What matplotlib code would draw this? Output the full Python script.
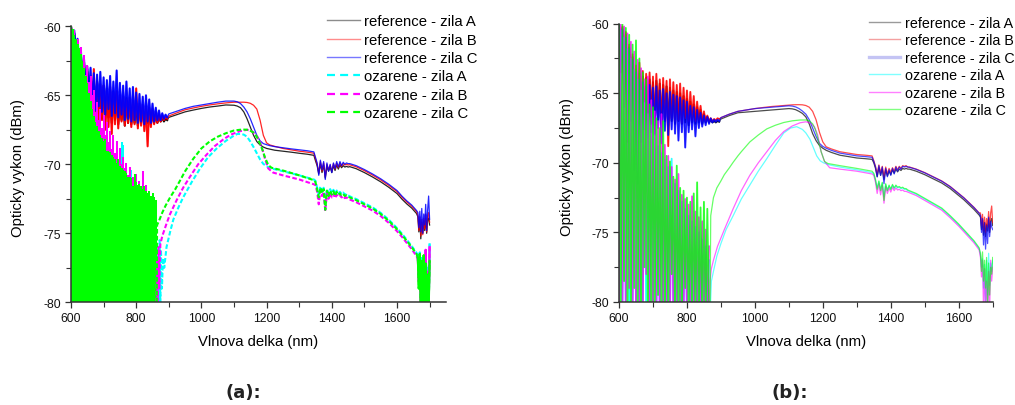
import numpy as np
import matplotlib
matplotlib.use("Agg")
import matplotlib.pyplot as plt
from matplotlib.lines import Line2D
from matplotlib.ticker import MultipleLocator

plt.rcParams['font.family'] = ['Liberation Sans', 'DejaVu Sans']
plt.rcParams['axes.unicode_minus'] = False

# ---------------------------------------------------------------- wavelength grids (nm)
NOISE_NM = np.arange(600, 900, 5)          # noisy short-wavelength band
OH_NM = np.arange(1350, 1455, 5)           # water-peak band
END_NM = np.arange(1664, 1701, 3)          # detector edge
MID_NM = [900, 925, 950, 975, 1000, 1025, 1050, 1075, 1100, 1110, 1120, 1130, 1140,
          1150, 1160, 1170, 1180, 1190, 1200, 1210, 1225, 1250, 1275, 1300, 1325, 1345]
TAIL_NM = [1455, 1475, 1500, 1525, 1550, 1575, 1600, 1615, 1630, 1645, 1660]
OZ_NOISE_NM_A = np.arange(600, 865, 5)
OZ_NOISE_NM_B = np.arange(600, 870, 5)

LABELS = ['reference - zila A', 'reference - zila B', 'reference - zila C',
          'ozarene - zila A', 'ozarene - zila B', 'ozarene - zila C']

# ================================================================ panel (a)
A_REF_A_NOISE = [-60.0, -61.0, -60.5, -62.0, -61.3, -62.9, -62.0, -63.9, -62.6, -64.8,
                 -63.3, -65.4, -63.8, -66.0, -64.0, -66.5, -64.1, -66.3, -64.4, -66.7,
                 -64.3, -66.9, -64.5, -66.6, -64.6, -67.0, -64.7, -66.8, -64.9, -67.1,
                 -65.0, -66.8, -65.1, -67.2, -65.2, -67.0, -65.4, -67.1, -65.5, -67.0,
                 -65.6, -67.2, -65.8, -67.0, -65.9, -67.1, -66.0, -67.0, -66.1, -67.1,
                 -66.3, -67.0, -66.4, -67.0, -66.5, -66.9, -66.6, -66.9, -66.7, -66.8]
A_REF_B_NOISE = [-60.0, -61.5, -60.6, -62.3, -61.2, -63.2, -61.9, -64.1, -62.8, -65.0,
                 -63.1, -65.6, -63.6, -66.4, -63.1, -66.9, -64.0, -67.2, -64.2, -66.8,
                 -64.3, -67.5, -64.6, -67.3, -64.4, -67.8, -64.8, -67.1, -64.7, -67.4,
                 -65.0, -66.9, -65.1, -67.2, -65.3, -67.0, -65.2, -67.3, -65.4, -67.1,
                 -64.5, -67.4, -65.6, -67.2, -65.7, -67.6, -65.8, -68.7, -65.9, -67.3,
                 -66.0, -67.1, -66.2, -67.0, -66.4, -66.9, -66.5, -66.8, -66.6, -66.7]
A_REF_C_NOISE = [-60.0, -61.2, -60.3, -61.8, -60.9, -62.6, -61.6, -63.8, -62.4, -64.6,
                 -62.9, -65.3, -63.0, -65.9, -63.4, -66.1, -63.5, -65.8, -63.3, -66.2,
                 -63.7, -66.4, -63.9, -66.0, -63.6, -66.5, -64.0, -66.3, -63.2, -66.6,
                 -64.1, -66.4, -64.3, -66.8, -64.0, -66.7, -64.5, -66.9, -64.4, -66.8,
                 -64.8, -67.0, -64.9, -66.9, -65.1, -67.1, -65.0, -66.9, -65.3, -67.0,
                 -65.6, -66.9, -65.9, -66.8, -66.1, -66.8, -66.3, -66.7, -66.4, -66.6]

A_REF_A_MID = [-66.6, -66.4, -66.2, -66.07, -65.95, -65.85, -65.78, -65.7, -65.72, -65.78,
               -65.9, -66.2, -66.7, -67.3, -67.9, -68.35, -68.6, -68.75, -68.85, -68.9,
               -68.98, -69.05, -69.12, -69.2, -69.27, -69.35]
A_REF_B_MID = [-66.5, -66.27, -66.05, -65.92, -65.8, -65.7, -65.62, -65.55, -65.5, -65.5,
               -65.5, -65.5, -65.52, -65.58, -65.72, -66.0, -66.8, -67.9, -68.45, -68.6,
               -68.7, -68.85, -68.95, -69.05, -69.12, -69.2]
A_REF_C_MID = [-66.35, -66.15, -65.95, -65.8, -65.7, -65.6, -65.5, -65.42, -65.42, -65.47,
               -65.6, -65.85, -66.2, -66.7, -67.3, -67.9, -68.3, -68.5, -68.58, -68.65,
               -68.72, -68.8, -68.88, -68.95, -69.02, -69.1]

A_REF_A_OH = [-69.75, -70.1, -70.7, -69.95, -70.6, -70.05, -71.0, -70.15, -70.5, -70.2, -70.6,
              -70.1, -70.45, -70.05, -70.35, -70.05, -70.25, -70.1, -70.2, -70.15, -70.2]
A_REF_B_OH = [-69.6, -70.0, -70.6, -69.8, -70.5, -69.9, -70.9, -70.0, -70.4, -70.05, -70.5,
              -69.95, -70.35, -69.9, -70.25, -69.9, -70.15, -69.95, -70.05, -70.0, -70.05]
A_REF_C_OH = [-69.5, -69.9, -70.8, -69.7, -70.4, -69.8, -71.1, -69.9, -70.5, -70.0, -70.6,
              -69.9, -70.3, -69.8, -70.2, -69.8, -70.1, -69.85, -70.0, -69.9, -69.95]

A_REF_A_TAIL = [-70.17, -70.32, -70.6, -70.92, -71.27, -71.67, -72.12, -72.52, -72.87, -73.17, -73.57]
A_REF_B_TAIL = [-70.03, -70.18, -70.46, -70.78, -71.13, -71.53, -71.98, -72.38, -72.73, -73.03, -73.43]
A_REF_C_TAIL = [-69.95, -70.1, -70.38, -70.7, -71.05, -71.45, -71.9, -72.3, -72.65, -72.95, -73.35]

A_REF_A_END = [-73.8, -74.9, -74.0, -75.4, -74.2, -75.0, -74.1, -74.8, -73.9, -75.0, -74.0, -73.9, -74.4]
A_REF_B_END = [-73.7, -74.8, -73.8, -75.2, -74.0, -75.1, -73.9, -74.7, -73.6, -74.9, -73.8, -73.5, -74.2]
A_REF_C_END = [-73.5, -74.6, -73.4, -74.9, -73.2, -75.0, -73.6, -74.4, -72.9, -74.8, -73.3, -72.3, -74.0]

# irradiated fibres, panel (a): tops of the noisy band
A_OZ_A_NOISE = [-60.0, -60.4, -60.8, -61.1, -61.5, -61.9, -62.3, -62.8, -63.3, -63.9,
                -64.4, -65.1, -65.7, -66.3, -66.8, -67.2, -67.5, -67.9, -68.2, -68.4,
                -68.6, -68.8, -69.2, -69.3, -69.4, -69.6, -69.8, -69.9, -70.1, -70.2,
                -70.3, -68.4, -68.6, -70.7, -70.8, -71.0, -71.1, -70.4, -71.3, -71.4,
                -71.5, -71.7, -71.6, -71.8, -72.0, -71.8, -72.1, -72.3, -72.1, -72.5,
                -72.3, -72.6, -72.8]
A_OZ_B_NOISE = [-60.0, -60.5, -60.3, -61.2, -60.9, -62.0, -61.5, -62.8, -62.1, -63.5,
                -62.8, -64.0, -63.6, -65.0, -64.6, -66.2, -65.5, -66.8, -66.0, -67.4,
                -66.4, -67.9, -66.9, -68.4, -67.6, -68.9, -67.9, -69.2, -68.3, -69.7,
                -68.8, -70.0, -69.5, -70.3, -69.9, -70.8, -70.2, -71.0, -70.9, -71.3,
                -70.7, -71.6, -71.2, -71.8, -70.5, -72.0, -71.5, -72.2, -72.0, -72.5,
                -72.4, -72.8, -73.0]
A_OZ_C_NOISE = [-60.0, -60.2, -60.6, -60.9, -61.3, -61.6, -62.0, -62.5, -63.0, -63.6,
                -64.1, -64.8, -65.4, -66.0, -66.5, -66.9, -67.2, -67.6, -67.9, -68.1,
                -68.3, -68.2, -69.0, -69.0, -69.1, -69.3, -69.5, -69.6, -69.9, -69.6,
                -70.1, -70.3, -70.4, -70.5, -70.6, -70.9, -70.9, -71.0, -71.6, -70.7,
                -71.3, -71.5, -71.4, -71.6, -71.8, -71.6, -71.9, -72.1, -71.9, -72.3,
                -72.1, -72.4, -72.6]

A_OZ_A_MID_NM = [866, 868, 870, 872, 874, 876, 879, 882, 886, 893, 904, 914, 930, 944, 970, 996,
                 1020, 1047, 1075, 1098, 1110, 1120, 1130, 1140, 1150, 1160, 1170, 1180, 1190,
                 1200, 1215, 1250, 1300, 1345]
A_OZ_A_MID = [-80.5, -76.0, -80.5, -75.5, -80.5, -76.2, -79.0, -76.8, -77.5, -76.0, -74.9, -74.0,
              -73.1, -72.4, -71.3, -70.3, -69.5, -68.85, -68.3, -67.95, -67.8, -67.8, -67.85,
              -68.0, -68.35, -68.75, -69.2, -69.65, -69.97, -70.15, -70.3, -70.5, -70.8, -71.1]
A_OZ_B_MID_NM = [862, 864, 866, 868, 871, 874, 880, 893, 904, 924, 944, 965, 990, 1016, 1040,
                 1067, 1090, 1118, 1140, 1155, 1170, 1180, 1188, 1195, 1205, 1220, 1250, 1300, 1345]
A_OZ_B_MID = [-80.5, -77.0, -80.5, -76.0, -79.0, -75.8, -75.2, -74.3, -73.6, -72.6, -71.7, -70.9,
              -70.0, -69.3, -68.7, -68.2, -67.85, -67.6, -67.5, -67.6, -67.95, -68.4, -69.0,
              -69.6, -70.3, -70.6, -70.8, -71.1, -71.45]
A_OZ_C_MID_NM = [863, 864, 870, 880, 890, 904, 920, 934, 950, 975, 1000, 1025, 1050, 1075, 1100,
                 1125, 1145, 1160, 1170, 1180, 1188, 1195, 1205, 1215, 1250, 1300, 1345]
A_OZ_C_MID = [-80.5, -74.4, -74.1, -73.5, -73.0, -72.4, -71.8, -71.2, -70.5, -69.6, -68.85, -68.35,
              -68.0, -67.75, -67.55, -67.48, -67.5, -67.7, -68.0, -68.5, -69.0, -69.5, -70.05,
              -70.25, -70.45, -70.8, -71.15]

A_OZ_A_OH = [-71.2, -71.7, -72.2, -71.6, -72.0, -71.7, -72.9, -71.8, -72.1, -71.8, -72.1,
             -71.85, -72.15, -71.9, -72.1, -72.0, -72.15, -72.05, -72.2, -72.15, -72.25]
A_OZ_B_OH = [-71.5, -72.0, -72.9, -71.9, -72.3, -72.0, -73.4, -72.1, -72.5, -72.1, -72.4,
             -72.15, -72.45, -72.2, -72.35, -72.25, -72.4, -72.3, -72.45, -72.4, -72.5]
A_OZ_C_OH = [-71.3, -71.8, -72.4, -71.7, -72.1, -71.8, -73.3, -71.9, -72.3, -71.9, -72.2,
             -71.95, -72.3, -72.0, -72.2, -72.1, -72.25, -72.15, -72.3, -72.25, -72.35]

A_OZ_A_TAIL = [-72.32, -72.52, -72.82, -73.12, -73.52, -74.02, -74.62, -75.02, -75.47, -75.92, -76.42]
A_OZ_B_TAIL = [-72.55, -72.75, -73.05, -73.35, -73.75, -74.25, -74.85, -75.25, -75.7, -76.15, -76.65]
A_OZ_C_TAIL = [-72.4, -72.6, -72.9, -73.2, -73.6, -74.1, -74.7, -75.1, -75.55, -76.0, -76.5]

A_OZ_A_END = [-76.6, -78.0, -76.4, -79.5, -76.8, -80.5, -77.0, -80.5, -76.5, -79.0, -77.5, -80.5, -75.8]
A_OZ_B_END = [-76.9, -78.5, -76.7, -80.5, -77.4, -80.5, -77.0, -80.5, -76.2, -79.5, -77.8, -80.5, -76.0]
A_OZ_C_END = [-76.8, -79.0, -76.5, -80.5, -77.0, -80.5, -76.6, -80.5, -77.2, -80.5, -78.0, -80.5, -77.0]

# ================================================================ panel (b)
B_REF_A_NOISE = [-60.0, -63.5, -60.3, -66.0, -60.8, -68.5, -61.7, -64.8, -62.4, -66.5,
                 -63.3, -66.2, -63.6, -67.0, -63.8, -66.6, -63.9, -67.2, -64.0, -66.7,
                 -64.2, -67.3, -64.1, -66.9, -64.3, -67.2, -64.4, -67.0, -64.5, -67.3,
                 -64.6, -67.0, -64.8, -67.2, -64.9, -67.0, -65.0, -67.2, -65.2, -67.1,
                 -65.4, -67.3, -65.6, -67.1, -65.8, -67.2, -66.0, -67.1, -66.2, -67.2,
                 -66.5, -67.1, -66.7, -67.1, -66.9, -67.1, -67.0, -67.1, -67.0, -67.05]
B_REF_B_NOISE = [-60.0, -61.8, -60.2, -63.0, -60.6, -64.2, -61.5, -65.5, -62.2, -66.0,
                 -63.0, -66.4, -62.8, -66.7, -63.4, -66.5, -63.6, -67.0, -63.5, -66.6,
                 -63.8, -67.1, -63.6, -66.8, -64.0, -67.2, -63.9, -66.9, -64.1, -68.8,
                 -64.0, -66.8, -64.2, -67.0, -64.4, -66.9, -64.3, -67.1, -64.6, -66.8,
                 -64.8, -67.0, -64.9, -66.9, -65.2, -67.0, -65.6, -66.9, -65.9, -67.0,
                 -66.3, -67.0, -66.6, -67.0, -66.8, -67.0, -66.85, -66.95, -66.8, -66.85]
B_REF_C_NOISE = [-60.0, -62.5, -60.4, -64.0, -61.0, -65.5, -61.8, -67.0, -62.6, -70.5,
                 -63.5, -71.5, -64.0, -68.5, -64.2, -67.6, -64.5, -68.2, -64.4, -67.8,
                 -64.6, -68.0, -64.5, -67.5, -64.8, -68.6, -64.7, -67.7, -65.0, -68.0,
                 -64.9, -67.6, -65.1, -67.9, -65.2, -68.4, -65.3, -67.8, -65.5, -68.9,
                 -65.6, -67.8, -65.9, -67.6, -66.0, -68.1, -66.2, -67.5, -66.4, -67.4,
                 -66.6, -67.3, -66.7, -67.2, -66.8, -67.1, -66.9, -67.05, -66.9, -67.0]

B_REF_A_MID = [-66.85, -66.6, -66.4, -66.35, -66.3, -66.25, -66.2, -66.15, -66.1, -66.12,
               -66.18, -66.3, -66.45, -66.7, -67.2, -67.9, -68.4, -68.75, -68.95, -69.1,
               -69.25, -69.45, -69.55, -69.65, -69.7, -69.75]
B_REF_B_MID = [-66.75, -66.5, -66.3, -66.2, -66.1, -66.02, -65.95, -65.9, -65.85, -65.83,
               -65.82, -65.82, -65.83, -65.88, -66.0, -66.3, -66.9, -67.8, -68.5, -68.85,
               -69.0, -69.2, -69.3, -69.4, -69.45, -69.5]
B_REF_C_MID = [-66.75, -66.5, -66.3, -66.2, -66.1, -66.05, -66.0, -65.95, -65.9, -65.92,
               -65.98, -66.1, -66.28, -66.5, -66.9, -67.5, -68.1, -68.6, -68.82, -68.95,
               -69.1, -69.3, -69.4, -69.5, -69.55, -69.6]

B_REF_A_OH = [-70.0, -70.4, -71.0, -70.35, -70.9, -70.45, -71.2, -70.5, -70.95, -70.6, -70.85,
              -70.5, -70.75, -70.45, -70.65, -70.45, -70.55, -70.4, -70.45, -70.4, -70.45]
B_REF_B_OH = [-69.85, -70.25, -70.8, -70.15, -70.7, -70.25, -71.0, -70.3, -70.8, -70.4, -70.7,
              -70.35, -70.6, -70.25, -70.5, -70.25, -70.4, -70.2, -70.25, -70.2, -70.3]
B_REF_C_OH = [-69.9, -70.3, -71.0, -70.2, -70.9, -70.3, -71.5, -70.4, -71.0, -70.5, -70.9,
              -70.4, -70.8, -70.3, -70.6, -70.3, -70.45, -70.25, -70.3, -70.25, -70.3]

B_REF_A_TAIL = [-70.45, -70.6, -70.85, -71.15, -71.45, -71.85, -72.35, -72.65, -73.0, -73.35, -73.75]
B_REF_B_TAIL = [-70.3, -70.45, -70.7, -71.0, -71.3, -71.7, -72.2, -72.5, -72.85, -73.2, -73.6]
B_REF_C_TAIL = [-70.32, -70.47, -70.72, -71.02, -71.32, -71.72, -72.22, -72.52, -72.87, -73.22, -73.62]

B_REF_A_END = [-73.9, -74.8, -74.1, -75.2, -74.3, -75.3, -74.4, -74.9, -74.0, -75.0, -74.2, -74.0, -74.5]
B_REF_B_END = [-73.6, -74.5, -73.7, -74.9, -73.9, -75.0, -74.0, -74.6, -73.5, -74.8, -73.6, -73.1, -74.3]
B_REF_C_END = [-73.8, -75.0, -74.0, -75.9, -74.3, -76.2, -74.5, -75.8, -73.9, -75.3, -74.2, -74.6, -74.8]

B_OZ_A_NOISE = [-81.0, -60.5, -81.0, -61.0, -81.0, -61.8, -81.0, -62.5, -81.0, -63.3,
                -81.0, -64.0, -81.0, -64.8, -81.0, -65.7, -81.0, -66.5, -81.0, -67.3,
                -81.0, -68.0, -81.0, -68.8, -81.0, -69.3, -81.0, -69.8, -81.0, -70.3,
                -81.0, -69.7, -81.0, -71.5, -81.0, -72.0, -81.0, -72.8, -81.0, -73.3,
                -81.0, -73.8, -81.0, -74.2, -81.0, -74.6, -81.0, -75.0, -81.0, -75.5,
                -81.0, -76.0, -81.0, -77.0]
B_OZ_B_NOISE = [-81.0, -60.0, -81.0, -60.2, -81.0, -60.7, -79.0, -61.3, -81.0, -62.0,
                -81.0, -62.6, -81.0, -63.2, -81.0, -64.0, -78.0, -63.8, -81.0, -65.5,
                -81.0, -66.3, -81.0, -67.0, -81.0, -66.5, -81.0, -68.7, -81.0, -69.5,
                -81.0, -70.3, -81.0, -71.2, -81.0, -70.8, -81.0, -72.3, -81.0, -72.6,
                -81.0, -73.0, -81.0, -72.4, -81.0, -73.5, -81.0, -73.9, -81.0, -74.2,
                -81.0, -74.8, -81.0, -76.0]
B_OZ_C_NOISE = [-60.0, -81.0, -60.0, -78.5, -60.3, -81.0, -60.8, -81.0, -61.5, -79.0,
                -61.2, -81.0, -62.5, -81.0, -63.5, -77.5, -64.0, -81.0, -65.8, -81.0,
                -66.0, -81.0, -66.8, -79.5, -67.5, -81.0, -67.0, -81.0, -69.5, -81.0,
                -69.9, -78.0, -71.0, -81.0, -70.2, -81.0, -71.8, -81.0, -72.0, -79.0,
                -72.5, -81.0, -72.8, -81.0, -72.2, -81.0, -71.4, -81.0, -73.2, -81.0,
                -72.8, -81.0, -73.3, -81.0]

B_OZ_A_MID_NM = [868, 872, 878, 888, 900, 915, 936, 960, 985, 1010, 1035, 1060, 1085, 1105,
                 1123, 1140, 1150, 1162, 1172, 1182, 1192, 1202, 1220, 1250, 1300, 1345]
B_OZ_A_MID = [-81.0, -78.5, -77.8, -76.7, -75.8, -74.8, -73.8, -72.6, -71.6, -70.6, -69.7,
              -68.75, -67.85, -67.5, -67.4, -67.6, -67.85, -68.3, -68.9, -69.5, -69.85, -70.0,
              -70.15, -70.3, -70.5, -70.7]
B_OZ_B_MID_NM = [865, 868, 872, 878, 890, 910, 936, 960, 985, 1010, 1035, 1060, 1085, 1110,
                 1133, 1150, 1165, 1175, 1185, 1195, 1205, 1220, 1250, 1300, 1345]
B_OZ_B_MID = [-81.0, -78.5, -77.6, -77.0, -76.0, -74.8, -73.3, -72.0, -70.9, -70.0, -69.2,
              -68.4, -67.75, -67.35, -67.12, -67.05, -67.15, -67.4, -68.0, -69.2, -69.9,
              -70.35, -70.45, -70.6, -70.8]
B_OZ_C_MID_NM = [868, 870, 878, 888, 900, 910, 925, 936, 950, 960, 985, 1010, 1035, 1060, 1085,
                 1110, 1133, 1150, 1160, 1170, 1178, 1185, 1195, 1205, 1215, 1250, 1300, 1345]
B_OZ_C_MID = [-81.0, -73.8, -72.5, -71.8, -71.3, -70.85, -70.35, -69.96, -69.5, -69.2, -68.5,
              -68.0, -67.56, -67.3, -67.1, -66.98, -66.92, -66.92, -66.97, -67.2, -67.6, -68.2,
              -69.2, -69.9, -70.05, -70.2, -70.4, -70.6]

B_OZ_A_OH = [-70.8, -71.25, -71.8, -71.35, -71.9, -71.45, -72.4, -71.55, -71.95, -71.65, -71.9,
             -71.6, -71.85, -71.65, -71.8, -71.75, -71.85, -71.8, -71.9, -71.9, -72.0]
B_OZ_B_OH = [-70.9, -71.4, -72.2, -71.5, -72.3, -71.6, -72.9, -71.7, -72.2, -71.8, -72.1,
             -71.75, -72.0, -71.8, -71.95, -71.9, -72.0, -71.95, -72.05, -72.05, -72.1]
B_OZ_C_OH = [-70.75, -71.2, -71.9, -71.3, -72.0, -71.4, -72.7, -71.5, -72.0, -71.6, -71.9,
             -71.55, -71.8, -71.6, -71.75, -71.7, -71.8, -71.75, -71.85, -71.85, -71.95]

B_OZ_A_TAIL = [-72.05, -72.25, -72.6, -72.95, -73.3, -73.85, -74.45, -74.85, -75.25, -75.65, -76.15]
B_OZ_B_TAIL = [-72.15, -72.35, -72.7, -73.05, -73.4, -73.95, -74.55, -74.95, -75.35, -75.75, -76.25]
B_OZ_C_TAIL = [-72.0, -72.2, -72.55, -72.9, -73.25, -73.8, -74.4, -74.8, -75.2, -75.6, -76.1]

B_OZ_A_END = [-76.6, -77.5, -76.9, -79.0, -77.3, -80.5, -77.0, -79.5, -76.5, -78.8, -77.2, -77.8, -77.0]
B_OZ_B_END = [-76.8, -78.2, -77.0, -80.5, -77.6, -80.5, -78.5, -80.5, -77.8, -80.5, -77.0, -78.5, -77.5]
B_OZ_C_END = [-76.5, -77.8, -76.4, -78.5, -77.0, -79.0, -76.8, -80.5, -77.2, -79.5, -77.5, -78.0, -76.8]

REF_COLORS = ['#000000', '#ff0000', '#0000ff']
OZ_COLORS = ['#00ffff', '#ff00ff', '#00ff00']


def join(parts_nm, parts_db):
    return np.concatenate([np.asarray(p, float) for p in parts_nm]), \
           np.concatenate([np.asarray(p, float) for p in parts_db])


def ref_series(noise, mid, oh, tail, end):
    return join([NOISE_NM, MID_NM, OH_NM, TAIL_NM, END_NM], [noise, mid, oh, tail, end])


def oz_series(mid_nm, mid, oh, tail, end):
    return join([mid_nm, OH_NM, TAIL_NM, END_NM], [mid, oh, tail, end])


def style_axes(ax, xmax):
    ax.set_xlim(600, xmax)
    ax.set_ylim(-80, -60)
    ax.set_xticks(np.arange(600, 1701, 200))
    ax.xaxis.set_minor_locator(MultipleLocator(100))
    ax.set_yticks([-80, -75, -70, -65, -60])
    ax.yaxis.set_minor_locator(MultipleLocator(2.5))
    for s in ('top', 'right'):
        ax.spines[s].set_visible(False)
    for s in ('left', 'bottom'):
        ax.spines[s].set_color('#333333')
        ax.spines[s].set_linewidth(1.1)
    ax.tick_params(which='major', direction='out', length=4.5, width=0.9,
                   color='#333333', labelsize=8.8, pad=2.5, labelcolor='#111111')
    ax.tick_params(which='minor', direction='out', length=3.5, width=0.8, color='#333333')
    ax.set_xlabel('Vlnova delka (nm)', fontsize=10.7, va='center')
    ax.set_ylabel('Opticky vykon (dBm)', fontsize=10.7, va='center')


fig = plt.figure(figsize=(10.15, 4.06), dpi=100)
W, H = 1015.0, 406.0

# ------------------------------------------------------------------ panel (a)
axa = fig.add_axes([71 / W, (H - 303.3) / H, 374.9 / W, 276.0 / H])
ref_a_noise = [A_REF_A_NOISE, A_REF_B_NOISE, A_REF_C_NOISE]
ref_a = [ref_series(A_REF_A_NOISE, A_REF_A_MID, A_REF_A_OH, A_REF_A_TAIL, A_REF_A_END),
         ref_series(A_REF_B_NOISE, A_REF_B_MID, A_REF_B_OH, A_REF_B_TAIL, A_REF_B_END),
         ref_series(A_REF_C_NOISE, A_REF_C_MID, A_REF_C_OH, A_REF_C_TAIL, A_REF_C_END)]
for (x, y), noise, c in zip(ref_a, ref_a_noise, REF_COLORS):
    axa.plot(x, y, color=c, lw=0.9, alpha=0.85)
    axa.plot(NOISE_NM, noise, color=c, lw=1.5, alpha=0.85)   # dense noisy band

for tops, c in zip([A_OZ_A_NOISE, A_OZ_B_NOISE, A_OZ_C_NOISE], OZ_COLORS):
    axa.vlines(OZ_NOISE_NM_A, -85, tops, colors=c, lw=1.45)
oz_a_end = [A_OZ_A_END, A_OZ_B_END, A_OZ_C_END]
oz_a = [oz_series(A_OZ_A_MID_NM, A_OZ_A_MID, A_OZ_A_OH, A_OZ_A_TAIL, A_OZ_A_END),
        oz_series(A_OZ_B_MID_NM, A_OZ_B_MID, A_OZ_B_OH, A_OZ_B_TAIL, A_OZ_B_END),
        oz_series(A_OZ_C_MID_NM, A_OZ_C_MID, A_OZ_C_OH, A_OZ_C_TAIL, A_OZ_C_END)]
for (x, y), end, c in zip(oz_a, oz_a_end, OZ_COLORS):
    axa.plot(x, y, color=c, lw=1.5, dashes=(2.2, 1.1))
    axa.plot(END_NM, end, color=c, lw=1.6)

style_axes(axa, 1750)
axa.yaxis.set_label_coords(-0.1414, 0.49)
axa.xaxis.set_label_coords(0.50, -0.140)

handles_a = [Line2D([], [], color='#8c8c8c', lw=1.0),
             Line2D([], [], color='#ff8c8c', lw=1.0),
             Line2D([], [], color='#7878ff', lw=1.0),
             Line2D([], [], color='#00ffff', lw=1.6, dashes=(3.6, 2.3)),
             Line2D([], [], color='#ff00ff', lw=1.6, dashes=(3.6, 2.3)),
             Line2D([], [], color='#00ff00', lw=1.6, dashes=(3.6, 2.3))]
axa.legend(handles_a, LABELS, loc='upper left', bbox_to_anchor=(327 / W, 1 - 15.5 / H),
           bbox_transform=fig.transFigure, frameon=False, fontsize=10.7,
           handlelength=2.22, handletextpad=0.27, labelspacing=0.29,
           borderpad=0, borderaxespad=0)

# ------------------------------------------------------------------ panel (b)
axb = fig.add_axes([619 / W, (H - 303.0) / H, 373.7 / W, 278.3 / H])
ref_b_noise = [B_REF_A_NOISE, B_REF_B_NOISE, B_REF_C_NOISE]
ref_b = [ref_series(B_REF_A_NOISE, B_REF_A_MID, B_REF_A_OH, B_REF_A_TAIL, B_REF_A_END),
         ref_series(B_REF_B_NOISE, B_REF_B_MID, B_REF_B_OH, B_REF_B_TAIL, B_REF_B_END),
         ref_series(B_REF_C_NOISE, B_REF_C_MID, B_REF_C_OH, B_REF_C_TAIL, B_REF_C_END)]
for (x, y), noise, c in zip(ref_b, ref_b_noise, REF_COLORS):
    axb.plot(x, y, color=c, lw=0.9, alpha=0.7)
    axb.plot(NOISE_NM, noise, color=c, lw=1.4, alpha=0.7)

for noise, c in zip([B_OZ_A_NOISE, B_OZ_B_NOISE, B_OZ_C_NOISE], OZ_COLORS):
    axb.plot(OZ_NOISE_NM_B, noise, color=c, lw=1.3, alpha=0.8)
oz_b = [oz_series(B_OZ_A_MID_NM, B_OZ_A_MID, B_OZ_A_OH, B_OZ_A_TAIL, B_OZ_A_END),
        oz_series(B_OZ_B_MID_NM, B_OZ_B_MID, B_OZ_B_OH, B_OZ_B_TAIL, B_OZ_B_END),
        oz_series(B_OZ_C_MID_NM, B_OZ_C_MID, B_OZ_C_OH, B_OZ_C_TAIL, B_OZ_C_END)]
for (x, y), c in zip(oz_b, OZ_COLORS):
    axb.plot(x, y, color=c, lw=0.9, alpha=0.6)

style_axes(axb, 1700)
axb.yaxis.set_label_coords(-0.139, 0.49)
axb.xaxis.set_label_coords(0.4996, -0.140)

handles_b = [Line2D([], [], color='#9a9a9a', lw=1.0),
             Line2D([], [], color='#f4a0a0', lw=1.0),
             Line2D([], [], color='#c4c4f4', lw=2.4),
             Line2D([], [], color='#80ffff', lw=1.0),
             Line2D([], [], color='#ff80ff', lw=1.0),
             Line2D([], [], color='#80ff80', lw=1.0)]
axb.legend(handles_b, LABELS, loc='upper left', bbox_to_anchor=(869 / W, 1 - 16.7 / H),
           bbox_transform=fig.transFigure, frameon=False, fontsize=10.3,
           handlelength=2.17, handletextpad=0.35, labelspacing=0.245,
           borderpad=0, borderaxespad=0)

# ------------------------------------------------------------------ panel captions
for xc, txt in ((243, '(a):'), (790, '(b):')):
    fig.text(xc / W, 1 - 393 / H, txt, ha='center', va='center', fontsize=13,
             fontweight='bold', family='DejaVu Sans', color='#222222')

fig.savefig('out.png', dpi=100)
